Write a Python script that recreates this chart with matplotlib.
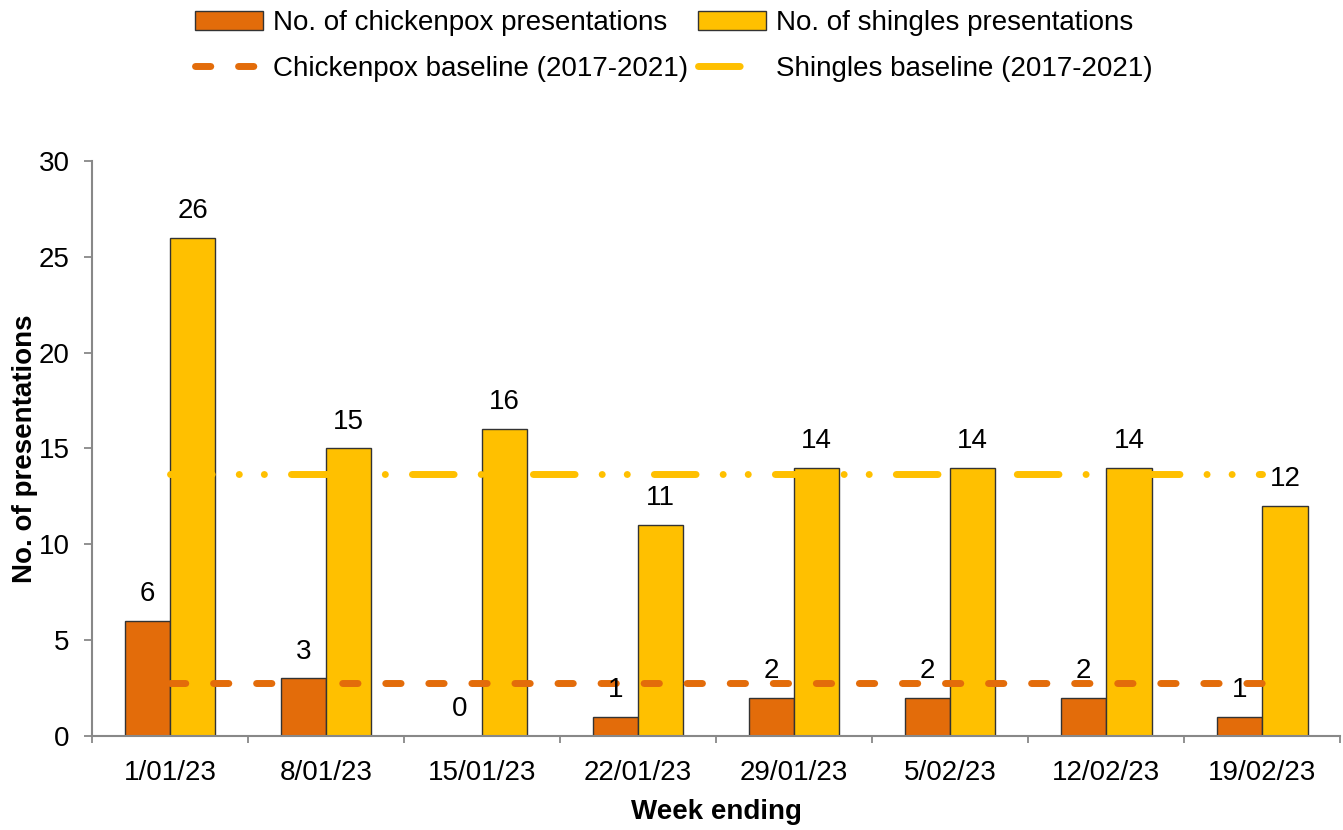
import numpy as np
import matplotlib.pyplot as plt

plt.rcParams["font.family"] = ["Liberation Sans", "DejaVu Sans"]

weeks = ["1/01/23", "8/01/23", "15/01/23", "22/01/23",
         "29/01/23", "5/02/23", "12/02/23", "19/02/23"]
chickenpox = [6, 3, 0, 1, 2, 2, 2, 1]
shingles = [26, 15, 16, 11, 14, 14, 14, 12]
chickenpox_baseline = [2.77] * 8
shingles_baseline = [13.67] * 8

FS = 20

fig = plt.figure(figsize=(13.43, 8.3), dpi=100)
ax = fig.add_axes([0.0685, 0.1133, 0.9295, 0.6927])

x = np.arange(len(weeks))
w = 0.29
b1 = ax.bar(x - w / 2, chickenpox, w, color="#E36C0A", edgecolor="#333333",
            linewidth=1, label="No. of chickenpox presentations", zorder=2)
b2 = ax.bar(x + w / 2, shingles, w, color="#FFC000", edgecolor="#333333",
            linewidth=1, label="No. of shingles presentations", zorder=2)

l1, = ax.plot(x, chickenpox_baseline, color="#E36C0A", lw=5,
              dashes=(2.2, 4.0), dash_capstyle="round",
              label="Chickenpox baseline (2017-2021)", zorder=3)
l2, = ax.plot(x, shingles_baseline, color="#FFC000", lw=5,
              dashes=(6.0, 3.9, 0.01, 3.6, 0.01, 3.9), dash_capstyle="round",
              label="Shingles baseline (2017-2021)", zorder=3)

for bars in (b1, b2):
    for r in bars:
        h = r.get_height()
        ax.annotate(f"{int(h)}", (r.get_x() + r.get_width() / 2, h),
                    xytext=(0, 10), textcoords="offset points",
                    ha="center", va="bottom", fontsize=FS)

ax.set_xlim(-0.5, 7.5)
ax.set_ylim(0, 30)
ax.set_yticks(range(0, 31, 5))
ax.tick_params(axis="y", labelsize=FS, length=6, width=1.3, color="#888888",
               direction="out", pad=10)
ax.set_xticks(x)
ax.set_xticklabels(weeks, fontsize=FS)
ax.set_xticks(np.arange(-0.5, 8, 1), minor=True)
ax.tick_params(axis="x", which="major", length=0, pad=17)
ax.tick_params(axis="x", which="minor", length=5, width=1.3, color="#888888")

for s in ("top", "right"):
    ax.spines[s].set_visible(False)
for s in ("left", "bottom"):
    ax.spines[s].set_color("#888888")
    ax.spines[s].set_linewidth(1.5)

ax.set_ylabel("No. of presentations", fontsize=FS, fontweight="bold", labelpad=0.5)
ax.set_xlabel("Week ending", fontsize=FS, fontweight="bold", labelpad=10)

fig.legend([b1, l1, b2, l2],
           [b1.get_label(), l1.get_label(), b2.get_label(), l2.get_label()],
           ncol=2, loc="upper center", bbox_to_anchor=(0.502, 1.018),
           frameon=False, fontsize=FS, handlelength=2.45, handletextpad=0.36,
           columnspacing=0.36, labelspacing=0.7)

fig.savefig("out.png", dpi=100)
